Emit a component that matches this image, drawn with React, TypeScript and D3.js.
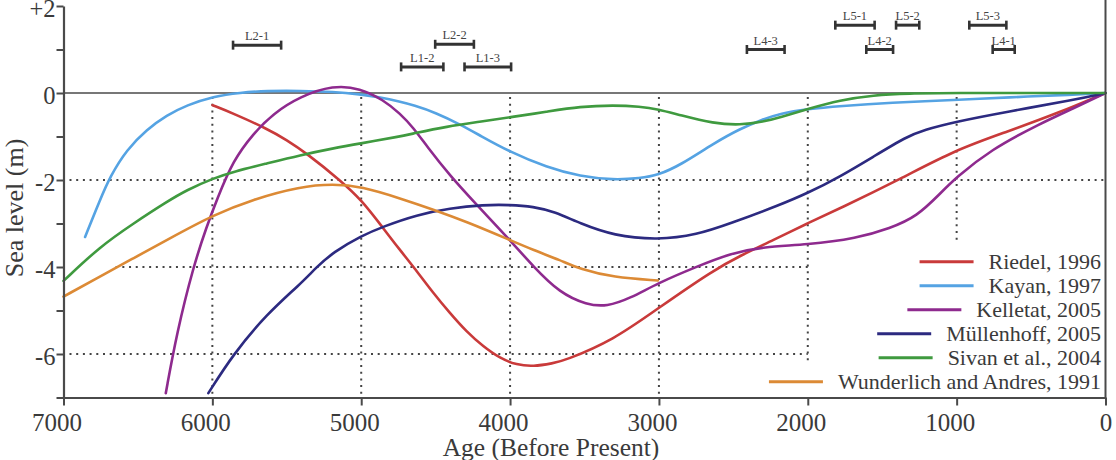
import React, { useEffect, useRef } from "react";
import * as d3 from "d3";

const W = 1116;
const H = 460;

// ---- series data (age BP, sea level m) ----
const riedelYears = [5999, 5859, 5634, 5500, 5366, 5143, 4997, 4852, 4740, 4650, 4516, 4404, 4292, 4180, 4068, 3956, 3844, 3710, 3641, 3305, 3007, 2633, 2454, 2230, 2006, 1782, 1379, 1009, 661, 325, 0];
const riedelLevels = [-0.28, -0.47, -0.82, -1.08, -1.39, -2.0, -2.46, -3.11, -3.61, -3.99, -4.6, -5.06, -5.49, -5.83, -6.1, -6.25, -6.29, -6.21, -6.16, -5.68, -4.95, -4.07, -3.74, -3.38, -3.0, -2.65, -1.98, -1.31, -0.89, -0.47, 0];

const kayanYears = [6855, 6755, 6687, 6575, 6441, 6306, 6172, 5993, 5814, 5634, 5411, 5187, 5007, 4873, 4739, 4649, 4500, 4325, 4201, 4004, 3753, 3529, 3305, 3126, 3007, 2857, 2633, 2454, 2297, 2185, 2006, 1782, 1446, 1009, 661, 214, 0];
const kayanLevels = [-3.31, -2.46, -1.92, -1.3, -0.84, -0.51, -0.28, -0.08, 0.01, 0.05, 0.05, 0.03, -0.03, -0.1, -0.2, -0.28, -0.45, -0.74, -0.98, -1.35, -1.71, -1.92, -2.0, -1.96, -1.89, -1.66, -1.16, -0.82, -0.6, -0.47, -0.37, -0.3, -0.22, -0.16, -0.1, -0.04, 0];

const kelletatYears = [6313, 6239, 6128, 6038, 5971, 5859, 5724, 5590, 5411, 5187, 5007, 4851, 4739, 4649, 4560, 4404, 4224, 4001, 3844, 3665, 3484, 3350, 3193, 3007, 2745, 2521, 2297, 2006, 1670, 1446, 1267, 1110, 1009, 774, 438, 214, 0];
const kelletatLevels = [-6.9, -5.52, -3.99, -3.07, -2.46, -1.54, -0.93, -0.47, -0.08, 0.18, 0.11, -0.16, -0.47, -0.8, -1.22, -1.9, -2.57, -3.38, -3.99, -4.6, -4.87, -4.91, -4.72, -4.37, -3.99, -3.69, -3.53, -3.49, -3.34, -3.11, -2.84, -2.31, -1.96, -1.31, -0.7, -0.35, 0];

const mullenhoffYears = [6027, 5859, 5634, 5411, 5299, 5188, 4997, 4852, 4627, 4404, 4180, 4001, 3844, 3700, 3529, 3305, 3007, 2745, 2521, 2185, 2006, 1782, 1558, 1334, 1222, 1009, 661, 214, 0];
const mullenhoffLevels = [-6.9, -6.0, -5.08, -4.4, -4.0, -3.66, -3.28, -3.07, -2.8, -2.65, -2.57, -2.57, -2.61, -2.73, -3.0, -3.28, -3.38, -3.26, -3.0, -2.57, -2.31, -1.92, -1.46, -1.0, -0.85, -0.66, -0.43, -0.16, 0];

const sivanYears = [7000, 6755, 6531, 6306, 6172, 5993, 5859, 5634, 5411, 5187, 5007, 4739, 4649, 4425, 4201, 4004, 3753, 3529, 3305, 3126, 3007, 2857, 2633, 2454, 2297, 2185, 2006, 1782, 1558, 1334, 1000, 500, 0];
const sivanLevels = [-4.32, -3.53, -3.0, -2.5, -2.23, -1.96, -1.81, -1.62, -1.43, -1.27, -1.16, -1.0, -0.93, -0.77, -0.66, -0.56, -0.43, -0.31, -0.28, -0.31, -0.37, -0.51, -0.7, -0.74, -0.66, -0.56, -0.37, -0.16, -0.05, -0.01, 0, 0, 0];

const wunderlichYears = [7000, 6755, 6531, 6306, 5993, 5724, 5411, 5188, 4997, 4740, 4516, 4292, 4001, 3844, 3665, 3529, 3305, 3007];
const wunderlichLevels = [-4.68, -4.22, -3.8, -3.38, -2.8, -2.44, -2.15, -2.09, -2.15, -2.42, -2.68, -2.96, -3.38, -3.61, -3.84, -4.05, -4.24, -4.31];

const seriesNames = ["Riedel, 1996", "Kayan, 1997", "Kelletat, 2005", "Müllenhoff, 2005", "Sivan et al., 2004", "Wunderlich and Andres, 1991"];
const seriesColors = ["#c93a3a", "#55a3e3", "#8e2a8e", "#2c2a80", "#3f9a3f", "#dc8a35"];
const seriesYears = [riedelYears, kayanYears, kelletatYears, mullenhoffYears, sivanYears, wunderlichYears];
const seriesLevels = [riedelLevels, kayanLevels, kelletatLevels, mullenhoffLevels, sivanLevels, wunderlichLevels];

// ---- age ranges (horizontal bars) ----
const rangeLabels = ["L2-1", "L2-2", "L1-2", "L1-3", "L4-3", "L5-1", "L5-2", "L5-3", "L4-2", "L4-1"];
const rangeStarts = [5861, 4503, 4732, 4306, 2409, 1815, 1407, 915, 1607, 758];
const rangeEnds = [5538, 4243, 4448, 3993, 2156, 1551, 1251, 666, 1427, 610];
const rangeLevels = [1.1, 1.12, 0.6, 0.6, 1.0, 1.56, 1.56, 1.56, 1.0, 1.0];

// ---- axes ----
const xTickValues = [7000, 6000, 5000, 4000, 3000, 2000, 1000, 0];
const yTickValues = [-7, -6, -5, -4, -3, -2, -1, 0, 1, 2];
const yLabelValues = [2, 0, -2, -4, -6];
const yLabelTexts = ["+2", "0", "-2", "-4", "-6"];

// dotted grid: [value, from, to]
const hGridValues = [-2, -4, -6];
const hGridFrom = [7000, 6690, 7000];
const hGridTo = [0, 2000, 2000];
const vGridValues = [6000, 5000, 4000, 3000, 2000, 1000];
const vGridBottom = [-7, -7, -7, -7, -6.25, -3.4];

const FONT = "Liberation Serif, DejaVu Serif, serif";

export default function App() {
  const ref = useRef<SVGSVGElement>(null);

  useEffect(() => {
    const svg = d3.select(ref.current);
    svg.selectAll("*").remove();
    const ink = "#3a3a3a";
    const axisInk = "#4a4a4a";

    const x = d3.scaleLinear().domain([7000, 0]).range([63.5, 1105.5]);
    const y = d3.scaleLinear().domain([-7, 2]).range([397.5, 6]);

    svg.append("rect").attr("width", W).attr("height", H).attr("fill", "#fff");

    // dotted grid
    const grid = svg.append("g").attr("stroke", "#444").attr("stroke-width", 2).attr("stroke-dasharray", "2,4.7").attr("fill", "none");
    hGridValues.forEach((v, i) => {
      grid.append("line").attr("x1", x(hGridFrom[i]) + 6).attr("x2", x(hGridTo[i])).attr("y1", y(v)).attr("y2", y(v));
    });
    vGridValues.forEach((v, i) => {
      grid.append("line").attr("x1", x(v)).attr("x2", x(v)).attr("y1", y(0) + 4).attr("y2", y(vGridBottom[i]));
    });

    // zero line
    svg.append("line").attr("x1", x(7000)).attr("x2", x(0)).attr("y1", y(0)).attr("y2", y(0))
      .attr("stroke", axisInk).attr("stroke-width", 1.6);

    // curves
    const line = d3.line<[number, number]>()
      .x((d) => x(d[0]))
      .y((d) => y(d[1]))
      .curve(d3.curveBasis);
    seriesNames.forEach((_, i) => {
      const pts: [number, number][] = seriesYears[i].map((yr, j) => [yr, seriesLevels[i][j]]);
      svg.append("path").attr("d", line(pts) as string).attr("fill", "none")
        .attr("stroke", seriesColors[i]).attr("stroke-width", 2.6).attr("stroke-linejoin", "round").attr("stroke-linecap", "round");
    });

    // axes
    const xAxis = d3.axisBottom(x).tickValues(xTickValues).tickSize(8).tickSizeOuter(0).tickPadding(8)
      .tickFormat((d) => String(d));
    const gx = svg.append("g").attr("transform", `translate(0,${y(-7)})`).call(xAxis as any);
    gx.attr("font-family", null).attr("font-size", null);
    gx.select(".domain").attr("stroke", axisInk).attr("stroke-width", 2.2);
    gx.selectAll(".tick line").attr("stroke", axisInk).attr("stroke-width", 2);
    gx.selectAll(".tick text").style("font-family", FONT).style("font-size", "25px").attr("fill", ink)
      .attr("dx", (d: any) => (d === 0 ? 0 : -7));

    const yAxis = d3.axisLeft(y).tickValues(yTickValues).tickSize(7).tickSizeOuter(0).tickPadding(1)
      .tickFormat((d) => {
        const k = yLabelValues.indexOf(d as number);
        return k >= 0 ? yLabelTexts[k] : "";
      });
    const gy = svg.append("g").attr("transform", `translate(${x(7000)},0)`).call(yAxis as any);
    gy.attr("font-family", null).attr("font-size", null);
    gy.select(".domain").attr("stroke", axisInk).attr("stroke-width", 2.2);
    gy.selectAll(".tick line").attr("stroke", axisInk).attr("stroke-width", 2);
    gy.selectAll(".tick text").style("font-family", FONT).style("font-size", "24.5px").attr("fill", ink).attr("dy", "0.42em");

    // right border
    svg.append("line").attr("x1", x(0)).attr("x2", x(0)).attr("y1", 0).attr("y2", y(-7) + 1)
      .attr("stroke", axisInk).attr("stroke-width", 2);

    // axis titles
    svg.append("text").attr("x", 551).attr("y", 456).attr("text-anchor", "middle")
      .style("font-family", FONT).style("font-size", "25.5px").attr("fill", ink).text("Age (Before Present)");
    svg.append("text").attr("transform", "translate(23,208) rotate(-90)").attr("text-anchor", "middle")
      .style("font-family", FONT).style("font-size", "26px").attr("fill", ink).text("Sea level (m)");

    // range bars
    const rg = svg.append("g");
    rangeLabels.forEach((lab, i) => {
      const x1 = x(rangeStarts[i]);
      const x2 = x(rangeEnds[i]);
      const yy = y(rangeLevels[i]);
      rg.append("line").attr("x1", x1).attr("x2", x2).attr("y1", yy).attr("y2", yy).attr("stroke", "#333").attr("stroke-width", 3);
      [x1, x2].forEach((xx) => {
        rg.append("line").attr("x1", xx).attr("x2", xx).attr("y1", yy - 4.5).attr("y2", yy + 4.5).attr("stroke", "#333").attr("stroke-width", 2.6);
      });
      rg.append("text").attr("x", (x1 + x2) / 2).attr("y", yy - 5).attr("text-anchor", "middle")
        .style("font-family", FONT).style("font-size", "12.5px").attr("fill", "#444").text(lab);
    });

    // legend
    const lg = svg.append("g");
    seriesNames.forEach((name, i) => {
      const ly = 261.7 + 24 * i;
      const t = lg.append("text").attr("x", 1101).attr("y", ly + 7).attr("text-anchor", "end")
        .style("font-family", FONT).style("font-size", "22px").attr("fill", ink).text(name);
      const w = (t.node() as SVGTextElement).getComputedTextLength();
      const xe = 1101 - w - 15;
      lg.append("line").attr("x1", xe - 54).attr("x2", xe).attr("y1", ly).attr("y2", ly)
        .attr("stroke", seriesColors[i]).attr("stroke-width", 3);
    });
  }, []);

  return <svg ref={ref} width={W} height={H} style={{ position: "absolute", left: 0, top: 0, display: "block" }} />;
}
